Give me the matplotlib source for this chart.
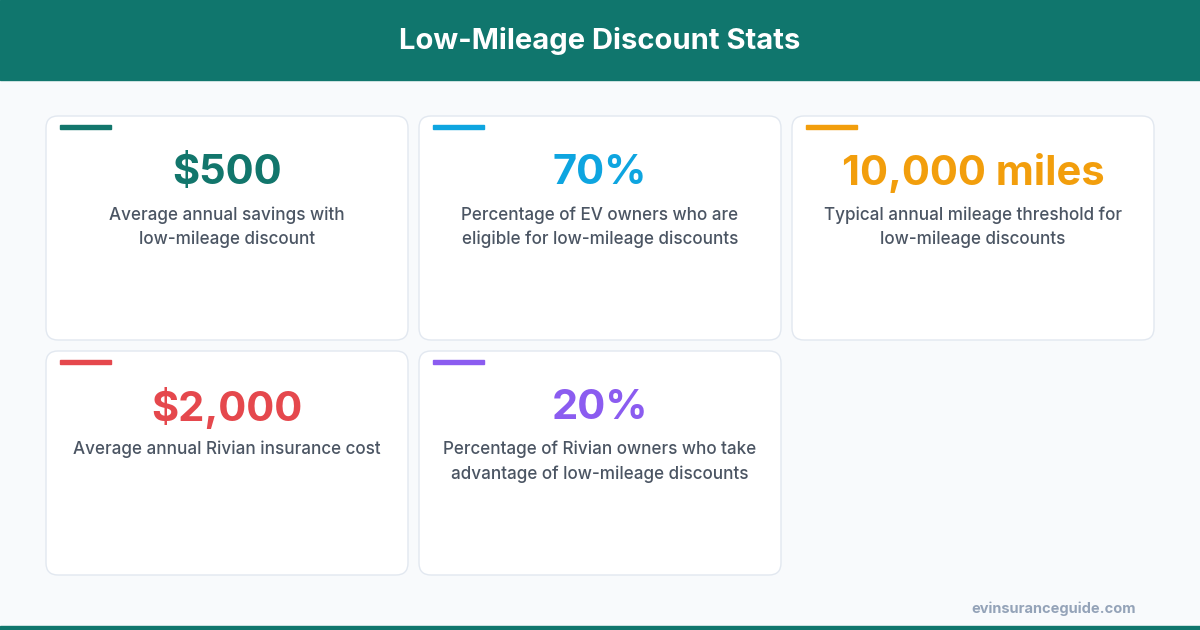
import matplotlib
matplotlib.use("Agg")
import matplotlib.pyplot as plt
from matplotlib.patches import FancyBboxPatch, Rectangle

title = "Low-Mileage Discount Stats"
values = ["$500", "70%", "10,000 miles", "$2,000", "20%"]
descs = ["Average annual savings with\nlow-mileage discount",
         "Percentage of EV owners who are\neligible for low-mileage discounts",
         "Typical annual mileage threshold for\nlow-mileage discounts",
         "Average annual Rivian insurance cost",
         "Percentage of Rivian owners who take\nadvantage of low-mileage discounts"]
colors = ["#12766c", "#0ea5e0", "#f29e0c", "#e5484d", "#8b5cf0"]
footer = "evinsuranceguide.com"

plt.rcParams['font.family'] = ['Inter', 'DejaVu Sans']
fig = plt.figure(figsize=(12, 6.3), dpi=100)
ax = fig.add_axes([0, 0, 1, 1])
ax.set_xlim(0, 1200); ax.set_ylim(630, 0); ax.axis('off')
fig.patch.set_facecolor("#f8fafc")

ax.add_patch(Rectangle((0, 0), 1200, 80, color="#10766d"))
ax.add_patch(Rectangle((0, 626), 1200, 4, color="#10766d"))
ax.text(600, 41, title, color="white", fontsize=21, fontweight="bold", ha="center", va="center")

xs = [46, 419, 792]; ys = [116, 351]
for i, (v, d, c) in enumerate(zip(values, descs, colors)):
    x = xs[i % 3]; y = ys[i // 3]
    ax.add_patch(FancyBboxPatch((x, y), 362, 224, boxstyle="round,pad=0,rounding_size=12",
                                fc="white", ec="#e2e8f0", lw=1))
    ax.add_patch(Rectangle((x + 14, y + 9), 51, 4, color=c))
    ax.text(x + 181, y + 57, v, color=c, fontsize=30, fontweight="bold", ha="center", va="center")
    ax.text(x + 181, y + 90, d, color="#4b5563", fontsize=12.3, fontweight="medium",
            ha="center", va="top", linespacing=1.5)

ax.text(1136, 609, footer, color="#94a3b8", fontsize=10.5, fontweight="bold", ha="right", va="center")
fig.savefig("out.png", dpi=100, facecolor=fig.get_facecolor())
